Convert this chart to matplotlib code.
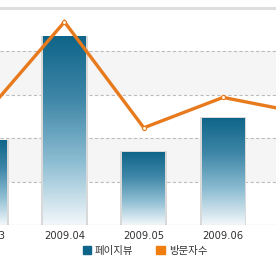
import matplotlib
matplotlib.use("Agg")
import matplotlib.pyplot as plt
import numpy as np
from matplotlib.colors import LinearSegmentedColormap
from matplotlib.patches import Patch

categories = ["2009.03", "2009.04", "2009.05", "2009.06", "2009.07"]
pageviews = [97, 217, 84, 123, 100]
visitors = [128, 234, 112, 147, 129]
legend_labels = ["페이지뷰", "방문자수"]

plt.rcParams['font.family'] = ['Noto Sans CJK KR', 'DejaVu Sans']

fig = plt.figure(figsize=(2.76, 2.60), dpi=100)
ax = fig.add_axes([0, 1 - 225 / 260, 1, (225 - 8) / 260])

x = np.arange(len(categories))

# bands
for lo, hi in [(50, 100), (150, 200)]:
    ax.axhspan(lo, hi, color="#f5f5f5", zorder=0, lw=0)
for gy in [50, 100, 150, 200]:
    ax.axhline(gy, color="#bdbdbd", lw=0.8, ls=(0, (3, 2)), zorder=1)
ax.axhline(250, color="#dedede", lw=2.2, zorder=1, clip_on=False)
ax.axhline(0, color="#b0b0b0", lw=0.8, zorder=4)

cmap = LinearSegmentedColormap.from_list("g", ["#f3f8fb", "#8dbdd2", "#3f87a8", "#0f6589"])
grad = np.linspace(0, 1, 256).reshape(-1, 1)
w = 0.54
for xi, v in zip(x, pageviews):
    ax.add_patch(plt.Rectangle((xi - w / 2 - 0.025, 0), w + 0.05, v + 1, color="#d9d9d9", lw=0, zorder=2))
    ax.imshow(grad, extent=[xi - w / 2, xi + w / 2, 0, v], origin="lower", cmap=cmap,
              aspect="auto", zorder=3)

ax.plot(x, visitors, color="#e87a1e", lw=2.4, zorder=5, solid_joinstyle="miter",
        marker="o", ms=3, mfc="#fff4e0", mec="#e87a1e", mew=0.8)

ax.set_xticks([])
ax.set_yticks([])
ax.set_xlim(0.187, 3.667)
ax.set_ylim(0, 250)
for xi, lab in zip(x, categories):
    ax.text(xi, -12.7, lab, ha="center", va="center", fontsize=7.2, color="#333333",
            family="DejaVu Sans", clip_on=False)
for s in ax.spines.values():
    s.set_visible(False)

handles = [Patch(facecolor="#0f6589", edgecolor="#0f6589"),
           Patch(facecolor="#f07d10", edgecolor="#f07d10")]
fig.legend(handles, legend_labels, loc="center", bbox_to_anchor=(145 / 276, 1 - 251 / 260),
           ncol=2, frameon=False, fontsize=7.5, handlelength=0.8, handleheight=0.8,
           handletextpad=0.4, columnspacing=2.2, labelcolor="#333333")

fig.savefig("out.png", dpi=100)
